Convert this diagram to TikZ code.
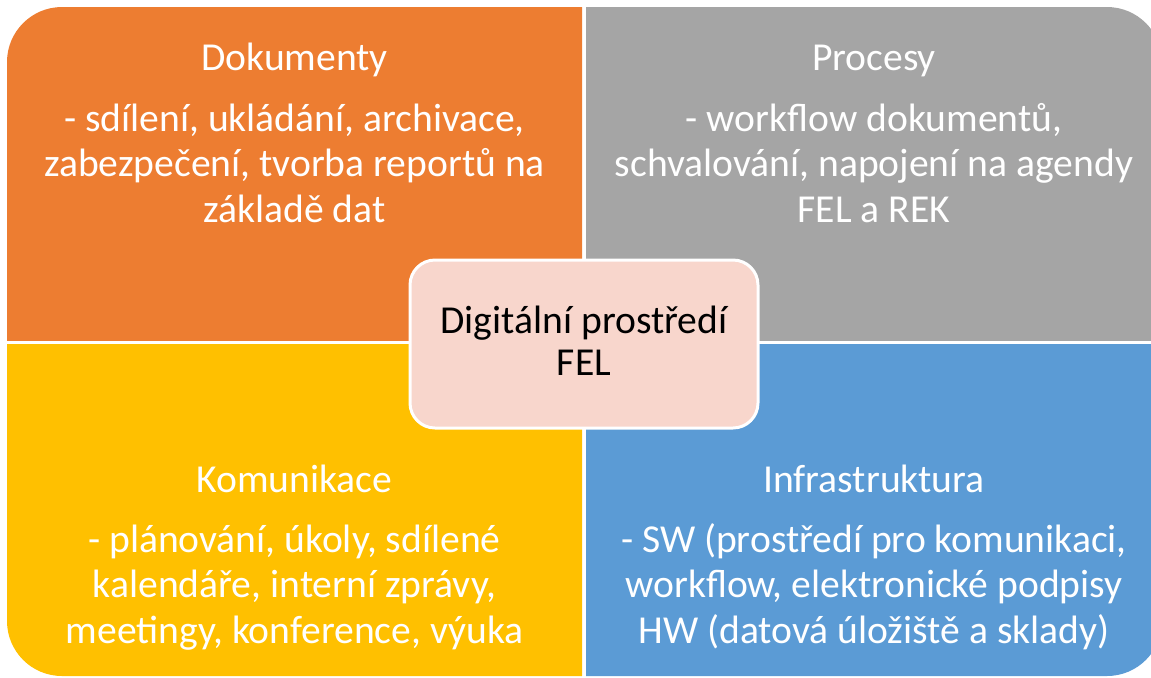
\documentclass[tikz,border=0pt]{standalone}
\usepackage{fontspec}
\setmainfont{Carlito}
\usepackage{tikz}
\definecolor{dokfill}{HTML}{ED7D31}
\definecolor{procfill}{HTML}{A5A5A5}
\definecolor{komfill}{HTML}{FFC000}
\definecolor{infrafill}{HTML}{5B9BD5}
\definecolor{corefill}{HTML}{F8D6CC}

\begin{document}
\begin{tikzpicture}[x=0.5pt, y=-0.5pt,
    quadbox/.style={rounded corners=27.5pt},
    label/.style={anchor=base, text=white, align=center, inner sep=0pt,
      font=\fontsize{19.8pt}{22.75pt}\selectfont},
    corebox/.style={draw=white, line width=1.5pt, fill=corefill,
      rounded corners=12.5pt, minimum width=174pt, minimum height=84pt},
    coretext/.style={anchor=base, text=black, align=center, inner sep=0pt,
      font=\fontsize{19.8pt}{21pt}\selectfont}]
    \useasboundingbox (0,0) rectangle (1151,677);

    % four quadrants, only the outer corner rounded
    \begin{scope}
      \clip (0,0) rectangle (582,340);
      \fill[dokfill, quadbox] (7,7) rectangle (1162,676);
    \end{scope}
    \begin{scope}
      \clip (586,0) rectangle (1200,340);
      \fill[procfill, quadbox] (7,7) rectangle (1162,676);
    \end{scope}
    \begin{scope}
      \clip (0,344) rectangle (582,700);
      \fill[komfill, quadbox] (7,7) rectangle (1162,676);
    \end{scope}
    \begin{scope}
      \clip (586,344) rectangle (1200,700);
      \fill[infrafill, quadbox] (7,7) rectangle (1162,676);
    \end{scope}

    % base of a multi-line node is its last line
    \node[label] (dokT) at (294.5,70) {Dokumenty};
    \node[label] (dokB) at (294.5,222) {- sdílení, ukládání, archivace,\\zabezpečení, tvorba reportů na\\základě dat};

    \node[label] (procT) at (874,70) {Procesy};
    \node[label] (procB) at (874,222) {- workflow dokumentů,\\schvalování, napojení na agendy\\FEL a REK};

    \node[label] (komT) at (294.5,492) {Komunikace};
    \node[label] (komB) at (294.5,643) {- plánování, úkoly, sdílené\\kalendáře, interní zprávy,\\meetingy, konference, výuka};

    \node[label] (infraT) at (874,492) {Infrastruktura};
    \node[label] (infraB) at (874,643) {- SW (prostředí pro komunikaci,\\workflow, elektronické podpisy\\HW (datová úložiště a sklady)};

    % centre box
    \node[corebox] (core) at (584,344) {};
    \node[coretext] (coreT) at (584,375) {Digitální prostředí\\FEL};
  \end{tikzpicture}
\end{document}
